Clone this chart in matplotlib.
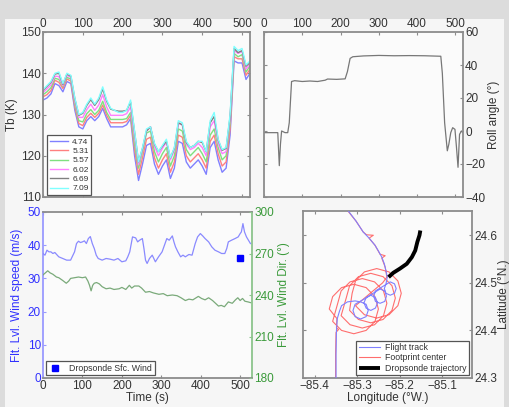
import matplotlib
matplotlib.use("Agg")
import matplotlib.pyplot as plt
from matplotlib.patches import Rectangle

plt.rcParams['font.family'] = ['Liberation Sans', 'DejaVu Sans']
plt.rcParams['axes.unicode_minus'] = True

# ---------------- brightness temperature (K) by channel frequency ----------------
tb_time = list(range(0, 530, 10))
tb_labels = ['4.74', '5.31', '5.57', '6.02', '6.69', '7.09']
tb_colors = ['#8080ff', '#ff8080', '#7fe07f', '#ff80ff', '#808080', '#80ffff']

tb_474 = [133.5, 134.0, 135.0, 137.5, 137.0, 135.5, 138.0, 137.5, 131.0, 127.0,
          126.5, 128.5, 129.5, 128.5, 129.5, 131.5, 129.0, 127.0, 127.0, 127.0,
          127.0, 127.5, 129.0, 120.0, 114.0, 118.0, 122.5, 123.0, 118.0, 115.5,
          117.5, 119.0, 114.5, 117.0, 123.5, 123.0, 118.5, 117.0, 118.0, 119.0,
          117.5, 115.5, 122.0, 123.5, 119.0, 116.0, 117.0, 125.0, 143.0, 142.5,
          142.5, 138.5, 140.0]
tb_531 = [134.3, 134.8, 135.8, 138.3, 137.8, 136.3, 138.6, 138.1, 131.8, 127.8,
          127.3, 129.3, 130.3, 129.3, 130.3, 132.3, 129.8, 128.0, 128.0, 128.0,
          128.0, 128.3, 129.8, 121.5, 115.5, 119.5, 124.0, 124.5, 119.5, 117.0,
          119.0, 120.5, 116.0, 118.5, 125.0, 124.5, 120.0, 118.5, 119.5, 120.5,
          119.0, 117.0, 123.5, 125.0, 120.5, 117.5, 118.5, 126.5, 144.0, 143.5,
          143.5, 139.5, 141.0]
tb_557 = [134.8, 135.5, 136.5, 138.8, 138.5, 136.8, 139.0, 138.6, 132.5, 128.5,
          128.2, 130.2, 131.2, 130.0, 131.0, 133.2, 130.5, 128.8, 128.8, 128.8,
          128.8, 129.0, 130.5, 122.8, 117.0, 121.0, 125.5, 126.0, 121.0, 118.5,
          120.5, 122.0, 117.5, 120.0, 126.5, 126.0, 121.5, 120.0, 121.0, 122.0,
          120.5, 118.5, 125.0, 126.5, 122.0, 119.0, 120.0, 128.0, 144.8, 144.0,
          144.5, 140.3, 141.8]
tb_602 = [135.3, 136.2, 137.2, 139.3, 139.2, 137.0, 139.5, 139.0, 133.2, 129.3,
          129.3, 131.2, 132.5, 131.0, 132.3, 134.8, 131.8, 129.8, 129.8, 129.8,
          129.8, 130.2, 131.8, 124.5, 117.8, 121.5, 126.0, 127.0, 122.3, 120.0,
          121.8, 123.3, 119.0, 121.3, 127.8, 127.5, 122.8, 121.5, 122.0, 123.0,
          122.0, 120.0, 127.0, 128.5, 123.0, 120.5, 121.0, 129.0, 145.5, 144.8,
          145.3, 141.0, 142.3]
tb_669 = [135.8, 136.8, 137.8, 139.8, 140.0, 137.3, 139.8, 139.3, 133.8, 129.8,
          130.3, 132.2, 133.6, 132.2, 133.6, 136.2, 133.2, 131.3, 131.0, 130.8,
          130.8, 131.0, 133.0, 125.8, 118.5, 121.8, 126.0, 127.0, 122.8, 121.0,
          122.3, 123.5, 119.5, 121.8, 128.0, 127.5, 123.2, 122.0, 122.5, 123.5,
          123.2, 121.0, 128.0, 129.5, 123.8, 121.3, 121.8, 129.5, 146.0, 145.0,
          145.5, 141.7, 142.6]
tb_709 = [136.0, 137.0, 138.0, 140.0, 140.3, 137.5, 140.0, 139.5, 134.0, 130.0,
          130.5, 132.5, 134.0, 132.5, 134.0, 136.7, 133.5, 131.5, 131.0, 130.5,
          130.5, 131.0, 133.5, 126.0, 118.5, 122.0, 126.5, 127.0, 123.0, 121.0,
          122.5, 124.0, 119.5, 122.0, 128.5, 128.0, 123.5, 122.0, 122.5, 123.5,
          123.5, 121.0, 128.5, 130.5, 124.0, 121.5, 122.0, 130.0, 146.5, 145.5,
          146.0, 142.0, 143.0]
tb_series = [tb_474, tb_531, tb_557, tb_602, tb_669, tb_709]

# ---------------- aircraft roll angle (deg) ----------------
roll_time = [0, 20, 36, 40, 43, 46, 55, 62, 66, 72, 80, 100, 120, 140, 160, 166,
             190, 212, 218, 225, 232, 260, 300, 340, 380, 420, 462, 466, 472,
             479, 483, 488, 493, 499, 503, 507, 511, 516, 520]
roll_angle = [-1, -1, -1, -21, -8, 0, -1, -1, 5, 30, 30.5, 30, 30.3, 30, 30.8,
              31.5, 31.3, 31.6, 36, 44, 45, 45.5, 45.8, 45.6, 45.7, 45.6, 45.3,
              35, 5, -12, -8, -1, 2, 1, -10, -22, -2, 0, -1]

# ---------------- flight-level wind ----------------
ws_time = [0, 5, 10, 15, 20, 25, 30, 40, 50, 60,
           70, 80, 85, 90, 95, 100, 105, 110, 115, 120,
           125, 130, 135, 140, 150, 160, 170, 180, 190, 200,
           210, 215, 220, 227, 235, 240, 245, 252, 256, 260,
           264, 270, 277, 285, 293, 302, 308, 314, 320, 328,
           332, 336, 342, 349, 355, 361, 370, 378, 386, 392,
           399, 405, 411, 420, 428, 436, 445, 453, 461, 466,
           470, 478, 487, 495, 500, 503, 507, 511, 516, 526]
wind_speed = [37.5, 37.0, 38.5, 38.0, 38.0, 37.5, 37.8, 36.5, 36.0, 35.5,
              35.5, 38.0, 40.5, 41.2, 40.8, 41.0, 41.3, 40.5, 42.0, 42.6,
              40.5, 39.0, 37.0, 36.0, 35.5, 36.0, 35.8, 35.5, 36.0, 35.0,
              35.3, 36.5, 38.0, 42.5, 42.2, 41.0, 41.5, 42.0, 39.0, 35.5,
              34.5, 36.0, 37.0, 35.0, 36.5, 38.0, 40.0, 42.0, 41.5, 42.8,
              41.0, 39.5, 38.0, 36.5, 37.0, 36.5, 37.2, 37.0, 40.5, 42.5,
              43.5, 42.8, 42.0, 41.0, 39.5, 38.5, 38.0, 37.5, 37.5, 39.0,
              41.0, 41.5, 42.0, 42.5, 43.5, 44.0, 46.5, 44.0, 42.5, 40.5]

wd_time = [0, 6, 12, 18, 25, 34, 40, 50, 59, 65,
           70, 80, 90, 100, 108, 114, 118, 122, 126, 130,
           136, 143, 150, 160, 170, 180, 193, 200, 210, 219,
           225, 232, 243, 250, 260, 270, 280, 294, 305, 315,
           328, 340, 350, 361, 370, 380, 394, 402, 411, 420,
           430, 445, 452, 460, 470, 480, 488, 494, 500, 506,
           512, 520, 526]
wind_dir = [254.5, 256, 257.5, 256, 255, 253, 252.5, 250.5, 248.5, 250,
            252, 252.5, 253, 252.5, 253, 250, 247, 243, 247, 248.5,
            249, 248, 246, 244.5, 245, 244, 244.5, 245.5, 244, 247,
            245, 246.5, 246.5, 245, 242, 242.5, 241.5, 240.5, 241, 239.5,
            240, 239.5, 238, 236, 237, 236.5, 239, 237.5, 236.5, 238,
            236, 232, 232.5, 231.5, 235, 234, 236.5, 238, 236, 237.5,
            235.5, 235, 234.5]

sonde_time = [500]
sonde_sfc_wind = [36]

# ---------------- map: flight track, footprint, dropsonde ----------------
track_lon = [-85.350, -85.350, -85.349, -85.347, -85.342, -85.337, -85.323, -85.305,
             -85.292, -85.279, -85.274, -85.279, -85.292, -85.305, -85.310, -85.305,
             -85.268, -85.257, -85.252, -85.257, -85.268, -85.279, -85.284, -85.279,
             -85.246, -85.235, -85.231, -85.235, -85.246, -85.257, -85.261, -85.257,
             -85.222, -85.212, -85.208, -85.212, -85.222, -85.232, -85.236, -85.232,
             -85.229, -85.232, -85.236, -85.242, -85.250, -85.258, -85.272, -85.286,
             -85.303, -85.321, -85.326]
track_lat = [24.300, 24.350, 24.400, 24.425, 24.440, 24.452, 24.460, 24.462,
             24.460, 24.455, 24.442, 24.429, 24.424, 24.429, 24.442, 24.455,
             24.474, 24.469, 24.458, 24.447, 24.442, 24.447, 24.458, 24.469,
             24.487, 24.483, 24.472, 24.461, 24.457, 24.461, 24.472, 24.483,
             24.502, 24.498, 24.488, 24.478, 24.474, 24.478, 24.488, 24.498,
             24.512, 24.525, 24.540, 24.554, 24.567, 24.579, 24.594, 24.607,
             24.630, 24.651, 24.660]

foot_lon = [-85.351, -85.351, -85.350, -85.344, -85.349, -85.348,
            -85.366, -85.358, -85.337, -85.308, -85.279, -85.258,
            -85.250, -85.258, -85.279, -85.308, -85.337, -85.358,
            -85.346, -85.338, -85.317, -85.288, -85.259, -85.238,
            -85.230, -85.238, -85.259, -85.288, -85.317, -85.338,
            -85.326, -85.318, -85.297, -85.268, -85.239, -85.218,
            -85.210, -85.218, -85.239, -85.268, -85.297, -85.318,
            -85.312, -85.304, -85.283, -85.254, -85.225, -85.204,
            -85.196, -85.204, -85.225, -85.254, -85.283, -85.304,
            -85.240, -85.230, -85.234, -85.242, -85.234, -85.246,
            -85.258, -85.272, -85.262, -85.278, -85.286, -85.303,
            -85.322, -85.327]
foot_lat = [24.300, 24.350, 24.396, 24.402, 24.405, 24.425,
            24.445, 24.471, 24.490, 24.497, 24.490, 24.471,
            24.445, 24.419, 24.400, 24.393, 24.400, 24.419,
            24.457, 24.483, 24.502, 24.509, 24.502, 24.483,
            24.457, 24.431, 24.412, 24.405, 24.412, 24.431,
            24.468, 24.494, 24.513, 24.520, 24.513, 24.494,
            24.468, 24.442, 24.423, 24.416, 24.423, 24.442,
            24.478, 24.504, 24.523, 24.530, 24.523, 24.504,
            24.478, 24.452, 24.433, 24.426, 24.433, 24.452,
            24.500, 24.512, 24.533, 24.552, 24.557, 24.560,
            24.579, 24.594, 24.600, 24.601, 24.607, 24.630,
            24.651, 24.660]

sonde_lon = [-85.226, -85.215, -85.199, -85.183, -85.171, -85.163, -85.158, -85.153, -85.151]
sonde_lat = [24.512, 24.521, 24.530, 24.540, 24.554, 24.568, 24.586, 24.600, 24.610]

# ---------------- styling helpers ----------------
FRAME = '#8c8c8c'
TXT = '#333333'
TICK_FS = 8.5
LAB_FS = 8.5
BLUE = '#3030ff'
GREEN = '#3a9a3a'


def style_axes(ax):
    ax.set_facecolor('#fbfbfb')
    for s in ax.spines.values():
        s.set_color(FRAME)
        s.set_linewidth(1.3)
    ax.tick_params(direction='in', length=2.5, width=0.8, color=FRAME,
                   labelsize=TICK_FS, labelcolor=TXT, pad=1.5,
                   top=True, bottom=True, left=True, right=True)


def style_legend(lg):
    lg.get_frame().set_edgecolor('#555555')
    lg.get_frame().set_linewidth(0.9)
    for t in lg.get_texts():
        t.set_color(TXT)


W, H = 510, 407
fig = plt.figure(figsize=(W / 100, H / 100), dpi=100, facecolor='#dcdcdc')
# light panel behind all four axes
bg = fig.add_axes([0, 0, 1, 1], zorder=-10)
bg.set_axis_off()
bg.add_patch(Rectangle((5 / W, 0), 499 / W, 1 - 19 / H, transform=bg.transAxes,
                       facecolor='#f6f6f6', edgecolor='none'))


def box(x0, y0, x1, y1):
    return [x0 / W, 1 - y1 / H, (x1 - x0) / W, (y1 - y0) / H]


# --- top left: brightness temperatures ---
ax_tb = fig.add_axes(box(43, 32, 250, 197))
style_axes(ax_tb)
for lab, col, vals in zip(tb_labels, tb_colors, tb_series):
    ax_tb.plot(tb_time, vals, color=col, lw=1.0, label=lab)
ax_tb.set_xlim(0, 520)
ax_tb.set_ylim(110, 150)
ax_tb.set_xticks(range(0, 501, 100))
ax_tb.set_yticks(range(110, 151, 10))
ax_tb.xaxis.tick_top()
ax_tb.tick_params(axis='x', labeltop=True, labelbottom=False, top=True, bottom=True)
ax_tb.set_ylabel('Tb (K)', fontsize=LAB_FS, color=TXT, labelpad=2)
leg = ax_tb.legend(loc='lower left', fontsize=6.0, handlelength=2.2, labelspacing=0.18,
                   borderpad=0.3, handletextpad=0.5, fancybox=False, framealpha=1,
                   borderaxespad=0.25, bbox_to_anchor=(0.01, 0.0))
style_legend(leg)

# --- top right: roll angle ---
ax_roll = fig.add_axes(box(264, 32, 463, 197))
style_axes(ax_roll)
ax_roll.plot(roll_time, roll_angle, color='#777777', lw=0.9)
ax_roll.set_xlim(0, 520)
ax_roll.set_ylim(-40, 60)
ax_roll.set_xticks(range(0, 501, 100))
ax_roll.set_yticks(range(-40, 61, 20))
ax_roll.xaxis.tick_top()
ax_roll.yaxis.tick_right()
ax_roll.tick_params(axis='x', labeltop=True, labelbottom=False, top=True, bottom=True)
ax_roll.tick_params(axis='y', labelright=True, labelleft=False, left=True, right=True)
ax_roll.yaxis.set_label_position('right')
ax_roll.set_ylabel('Roll angle (°)', fontsize=LAB_FS, color=TXT, labelpad=2)

# --- bottom left: flight-level wind ---
ax_ws = fig.add_axes(box(43, 212, 252, 378))
style_axes(ax_ws)
ax_wd = ax_ws.twinx()
ax_wd.patch.set_visible(False)
for s in ax_wd.spines.values():
    s.set_visible(False)
ax_ws.spines['left'].set_color('#9a9aff')
ax_ws.spines['right'].set_color('#8cc48c')
ax_ws.plot(ws_time, wind_speed, color='#8a8aff', lw=0.9, zorder=3)
ax_ws.plot(sonde_time, sonde_sfc_wind, 's', color='#0000ff', ms=5,
           label='Dropsonde Sfc. Wind', zorder=4)
ax_wd.plot(wd_time, wind_dir, color='#7aaa7a', lw=0.9)
ax_ws.set_xlim(0, 530)
ax_ws.set_ylim(0, 50)
ax_wd.set_ylim(180, 300)
ax_ws.set_xticks(range(0, 501, 100))
ax_ws.set_yticks(range(0, 51, 10))
ax_wd.set_yticks(range(180, 301, 30))
ax_ws.tick_params(axis='y', labelcolor=BLUE, color='#9a9aff', right=False)
ax_wd.tick_params(axis='y', direction='in', length=2.5, width=0.8, color='#8cc48c',
                  labelsize=TICK_FS, labelcolor=GREEN, pad=1.5)
ax_ws.set_xlabel('Time (s)', fontsize=LAB_FS, color=TXT, labelpad=0)
ax_ws.set_ylabel('Flt. Lvl. Wind speed (m/s)', fontsize=LAB_FS, color=BLUE, labelpad=3)
ax_wd.set_ylabel('Flt. Lvl. Wind Dir. (°)', fontsize=LAB_FS, color=GREEN, labelpad=3)
leg2 = ax_ws.legend(loc='lower left', fontsize=6.3, handlelength=1.6, borderpad=0.3,
                    handletextpad=0.8, fancybox=False, framealpha=1, borderaxespad=0.3,
                    markerscale=1.0)
style_legend(leg2)

# --- bottom right: map ---
ax_map = fig.add_axes(box(303, 211, 472, 378))
style_axes(ax_map)
ax_map.plot(foot_lon, foot_lat, color='#ff6e6e', lw=0.8, label='Footprint center', zorder=2)
ax_map.plot(track_lon, track_lat, color='#8080ff', lw=0.8, label='Flight track', zorder=3)
ax_map.plot(sonde_lon, sonde_lat, color='black', lw=2.8, label='Dropsonde trajectory',
            solid_capstyle='butt', zorder=4)
ax_map.set_xlim(-85.428, -85.029)
ax_map.set_ylim(24.3, 24.651)
ax_map.set_xticks([-85.4, -85.3, -85.2, -85.1])
ax_map.set_yticks([24.3, 24.4, 24.5, 24.6])
ax_map.yaxis.tick_right()
ax_map.tick_params(axis='y', labelright=True, labelleft=False, left=True, right=True)
ax_map.yaxis.set_label_position('right')
ax_map.set_xlabel('Longitude (°W.)', fontsize=LAB_FS, color=TXT, labelpad=0)
ax_map.set_ylabel('Latitude (°N.)', fontsize=LAB_FS, color=TXT, labelpad=1)
h, l = ax_map.get_legend_handles_labels()
order = [1, 0, 2]
leg3 = ax_map.legend([h[i] for i in order], [l[i] for i in order], loc='lower right',
                     fontsize=6.3, handlelength=2.4, labelspacing=0.15, borderpad=0.3,
                     handletextpad=0.6, fancybox=False, framealpha=1, borderaxespad=0.3)
style_legend(leg3)

fig.savefig('out.png', dpi=100, facecolor=fig.get_facecolor())
